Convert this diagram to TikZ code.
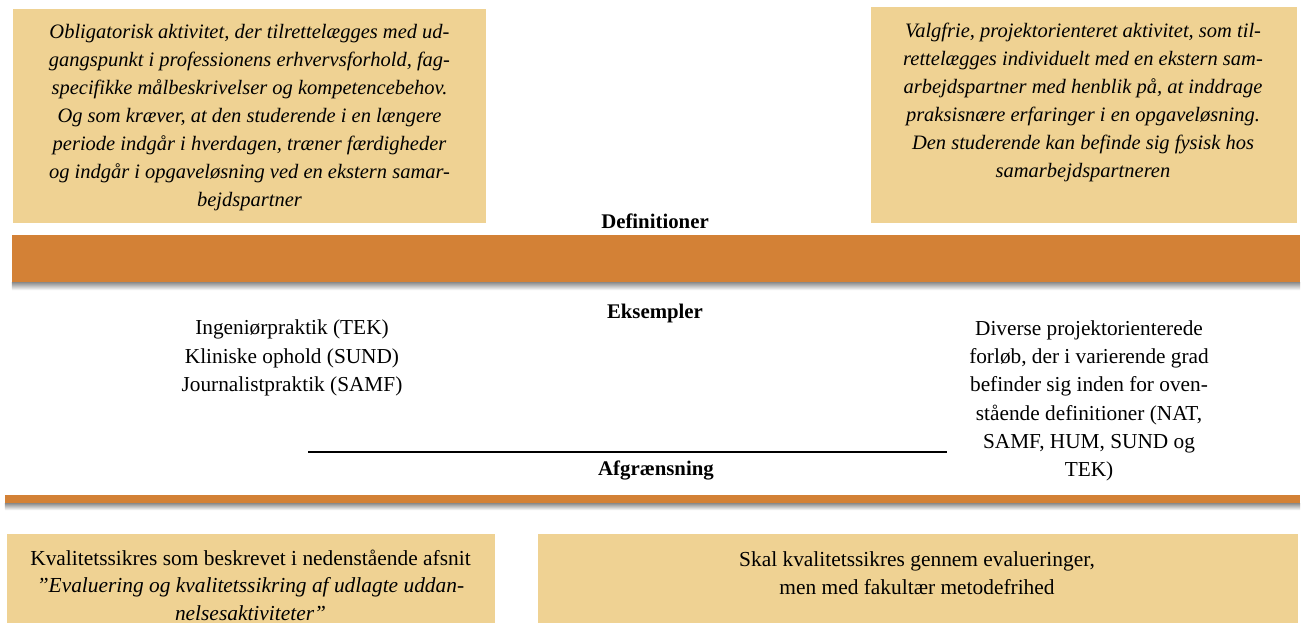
\documentclass[tikz,border=0pt]{standalone}
\usepackage{fontspec}
\setmainfont{Liberation Serif}
\definecolor{boxfill}{RGB}{239,210,147}
\definecolor{barorange}{RGB}{211,129,54}
\begin{document}
\begin{tikzpicture}[x=1pt,y=-1pt,
  boxbg/.style={fill=boxfill, draw=none, inner sep=0pt},
  toptext/.style={align=center, inner sep=0pt, font=\itshape\fontsize{20.5}{28}\selectfont},
  bodytext/.style={align=center, inner sep=0pt, font=\fontsize{21.3}{28.3}\selectfont},
  lowtext/.style={align=center, inner sep=0pt, font=\fontsize{21.4}{27.5}\selectfont},
  headtext/.style={inner sep=0pt, font=\bfseries\fontsize{20.8}{24}\selectfont},
  bar/.style={fill=barorange, draw=none, inner sep=0pt},
  barshadow/.style={top color=black!45, bottom color=white, draw=none}]
\useasboundingbox (0,0) rectangle (1304,623);
% top boxes
\node[boxbg, minimum width=473pt, minimum height=214pt] (defL) at (249.5,116) {};
\node[boxbg, minimum width=426pt, minimum height=216pt] (defR) at (1084,115) {};
\node[toptext] (defLtxt) at (249.5,117.5)
 {Obligatorisk aktivitet, der tilrettelægges med ud-\\
  gangspunkt i professionens erhvervsforhold, fag-\\
  specifikke målbeskrivelser og kompetencebehov.\\
  Og som kræver, at den studerende i en længere\\
  periode indgår i hverdagen, træner færdigheder\\
  og indgår i opgaveløsning ved en ekstern samar-\\
  bejdspartner};
\node[toptext] (defRtxt) at (1083,102)
 {Valgfrie, projektorienteret aktivitet, som til-\\
  rettelægges individuelt med en ekstern sam-\\
  arbejdspartner med henblik på, at inddrage\\
  praksisnære erfaringer i en opgaveløsning.\\
  Den studerende kan befinde sig fysisk hos\\
  samarbejdspartneren};
\node[headtext] (def) at (655,221) {Definitioner};
% wide bar
\node[bar, minimum width=1288pt, minimum height=47pt] (bar1) at (656,258.5) {};
\shade[barshadow] (bar1.south west) rectangle ([yshift=-8pt]bar1.south east);
\node[headtext] (eks) at (655,313) {Eksempler};
\node[bodytext] (eksL) at (292,358)
 {Ingeniørpraktik (TEK)\\ Kliniske ophold (SUND)\\ Journalistpraktik (SAMF)};
\node[bodytext] (eksR) at (1089,401)
 {Diverse projektorienterede\\ forløb, der i varierende grad\\ befinder sig inden for oven-\\
  stående definitioner (NAT,\\ SAMF, HUM, SUND og\\ TEK)};
\coordinate (lineL) at (308,452);
\coordinate (lineR) at (947,452);
\draw[line width=1.6pt] (lineL) -- (lineR);
\node[headtext] (afg) at (656,470) {Afgrænsning};
% thin bar
\node[bar, minimum width=1295pt, minimum height=8pt] (bar2) at (652.5,499) {};
\shade[barshadow] (bar2.south west) rectangle ([yshift=-7pt]bar2.south east);
% bottom boxes
\node[boxbg, minimum width=488pt, minimum height=90pt] (qL) at (251,579) {};
\node[boxbg, minimum width=760pt, minimum height=90pt] (qR) at (918,579) {};
\node[lowtext] (qLtxt) at (250.5,585)
 {Kvalitetssikres som beskrevet i nedenstående afsnit\\
  \itshape ”Evaluering og kvalitetssikring af udlagte uddan-\\
  \itshape nelsesaktiviteter”};
\node[lowtext] (qRtxt) at (917,573)
 {Skal kvalitetssikres gennem evalueringer,\\ men med fakultær metodefrihed};
\end{tikzpicture}
\end{document}
